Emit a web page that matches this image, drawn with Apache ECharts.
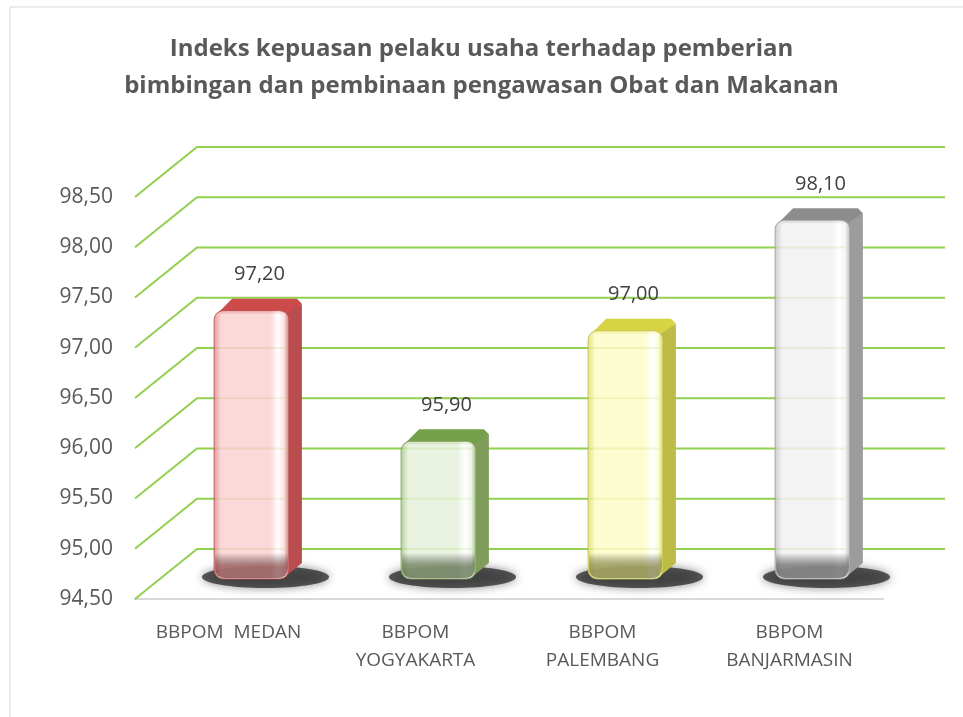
<!DOCTYPE html>
<html>
<head>
<meta charset="utf-8">
<script src="https://cdn.jsdelivr.net/npm/echarts@6/dist/echarts.min.js"></script>
<style>html,body{margin:0;padding:0;background:#fff}#c{width:963px;height:717px}</style>
</head>
<body>
<div id="c"></div>
<script>
const titleText = "Indeks kepuasan pelaku usaha terhadap pemberian\nbimbingan dan pembinaan pengawasan Obat dan Makanan";
const categories = ["BBPOM  MEDAN", "BBPOM\nYOGYAKARTA", "BBPOM\nPALEMBANG", "BBPOM\nBANJARMASIN"];
const values = [97.20, 95.90, 97.00, 98.10];
const yTicks = [94.5, 95.0, 95.5, 96.0, 96.5, 97.0, 97.5, 98.0, 98.5];
const yMin = 94.5, yMax = 98.5, yStep = 0.5;

const palettes = [
  {front:'#fad2d2', edge:'#dc8b8b', side:'#b94c4c', top:'#cc4a4a', dark:'rgba(110,40,40,0.55)'},
  {front:'#e6f1db', edge:'#a8c488', side:'#7f9c5c', top:'#74a049', dark:'rgba(60,80,40,0.55)'},
  {front:'#fcfcc6', edge:'#dddc72', side:'#bebc46', top:'#d6d443', dark:'rgba(100,100,30,0.55)'},
  {front:'#f1f1f1', edge:'#c2c2c2', side:'#9c9c9c', top:'#8c8c8c', dark:'rgba(60,60,60,0.55)'}
];
const fmt = v => v.toFixed(2).replace('.', ',');

const WALL_DX = 62, WALL_DY = -50;   // back wall offset
const BAR_DX = 23, BAR_DY = -20;     // bar depth offset
const SIDE_DX = 13, SIDE_DY = -12;   // bar side thickness

const chart = echarts.init(document.getElementById('c'));
chart.setOption({
  backgroundColor: '#fff',
  animation: false,
  title: {
    text: titleText, left: 'center', top: 26,
    textStyle: {fontFamily: 'Open Sans', fontSize: 24, fontWeight: 'bold', color: '#595959', lineHeight: 37}
  },
  graphic: [{type: 'rect', shape: {x: 10, y: 7, width: 960, height: 720}, style: {fill: 'none', stroke: '#d9d9d9', lineWidth: 1}, silent: true}],
  grid: {left: 135, right: 80, top: 197, bottom: 118},
  xAxis: {
    type: 'category', data: categories,
    axisLine: {show: true, lineStyle: {color: '#d9d9d9', width: 2}},
    axisTick: {show: false},
    axisLabel: {interval: 0, fontFamily: 'Open Sans', fontSize: 19, color: '#595959', margin: 20, lineHeight: 28}
  },
  yAxis: {
    type: 'value', min: yMin, max: yMax, interval: yStep,
    axisLine: {show: false}, axisTick: {show: false}, splitLine: {show: false},
    axisLabel: {fontFamily: 'Open Sans', fontSize: 21, color: '#595959', margin: 22, formatter: fmt}
  },
  series: [
    {
      type: 'custom', z: 1, silent: true,
      data: yTicks.map(v => [0, v]),
      renderItem: function (params, api) {
        const cs = params.coordSys;
        const p = api.coord([0, api.value(1)]);
        const x0 = cs.x, y = p[1];
        return {
          type: 'polyline',
          shape: {points: [[x0, y], [x0 + WALL_DX, y + WALL_DY], [cs.x + cs.width + WALL_DX, y + WALL_DY]]},
          style: {stroke: '#92d050', lineWidth: 2, fill: null}
        };
      }
    },
    {
      type: 'custom', z: 2, silent: true,
      data: values.map((v, i) => [i, v]),
      renderItem: function (params, api) {
        const i = api.value(0), v = api.value(1);
        const pal = palettes[i];
        const top = api.coord([i, v]);
        const base = api.coord([i, yMin]);
        const bw = api.size([1, 0])[0] * 0.4;
        const cx = top[0] + BAR_DX;
        const L = cx - bw / 2, R = cx + bw / 2;
        const T = top[1] + BAR_DY + 3, B = base[1] + BAR_DY;
        const r = 9;
        return {
          type: 'group',
          children: [
            {type: 'ellipse', shape: {cx: cx + 14, cy: B - 2, rx: bw * 0.85, ry: 11},
              style: {fill: 'rgba(40,40,40,0.75)', shadowBlur: 10, shadowColor: 'rgba(0,0,0,0.6)'}},
            {type: 'polygon', shape: {points: [[R - 4, T + 2], [R + SIDE_DX, T + SIDE_DY + 5], [R + SIDE_DX, B + SIDE_DY - 4], [R - 4, B - 2]]},
              style: {fill: pal.side}},
            {type: 'polygon', shape: {points: [[L + 3, T + 3], [L + SIDE_DX + 5, T + SIDE_DY], [R + SIDE_DX - 5, T + SIDE_DY], [R + SIDE_DX, T + SIDE_DY + 5], [R - 2, T + 3]]},
              style: {fill: pal.top}},
            {type: 'rect', shape: {x: L, y: T, width: bw, height: B - T, r: r},
              style: {
                fill: new echarts.graphic.LinearGradient(0, 0, 1, 0, [
                  {offset: 0, color: pal.edge}, {offset: 0.1, color: pal.front},
                  {offset: 0.75, color: pal.front}, {offset: 0.85, color: '#ffffff'},
                  {offset: 0.95, color: pal.front}, {offset: 1, color: pal.edge}
                ]),
                stroke: pal.side, lineWidth: 1, opacity: 0.85
              }},
            {type: 'rect', shape: {x: L + 1, y: B - 26, width: bw - 2, height: 25, r: [0, 0, r, r]},
              style: {fill: new echarts.graphic.LinearGradient(0, 0, 0, 1, [
                {offset: 0, color: 'rgba(0,0,0,0)'}, {offset: 0.5, color: pal.dark}, {offset: 1, color: pal.dark}
              ])}},
            {type: 'text', style: {text: fmt(v), x: cx + 8, y: T - 36, align: 'center', verticalAlign: 'middle',
              font: '20px "Open Sans"', fill: '#404040'}}
          ]
        };
      }
    }
  ]
});
</script>
</body>
</html>
